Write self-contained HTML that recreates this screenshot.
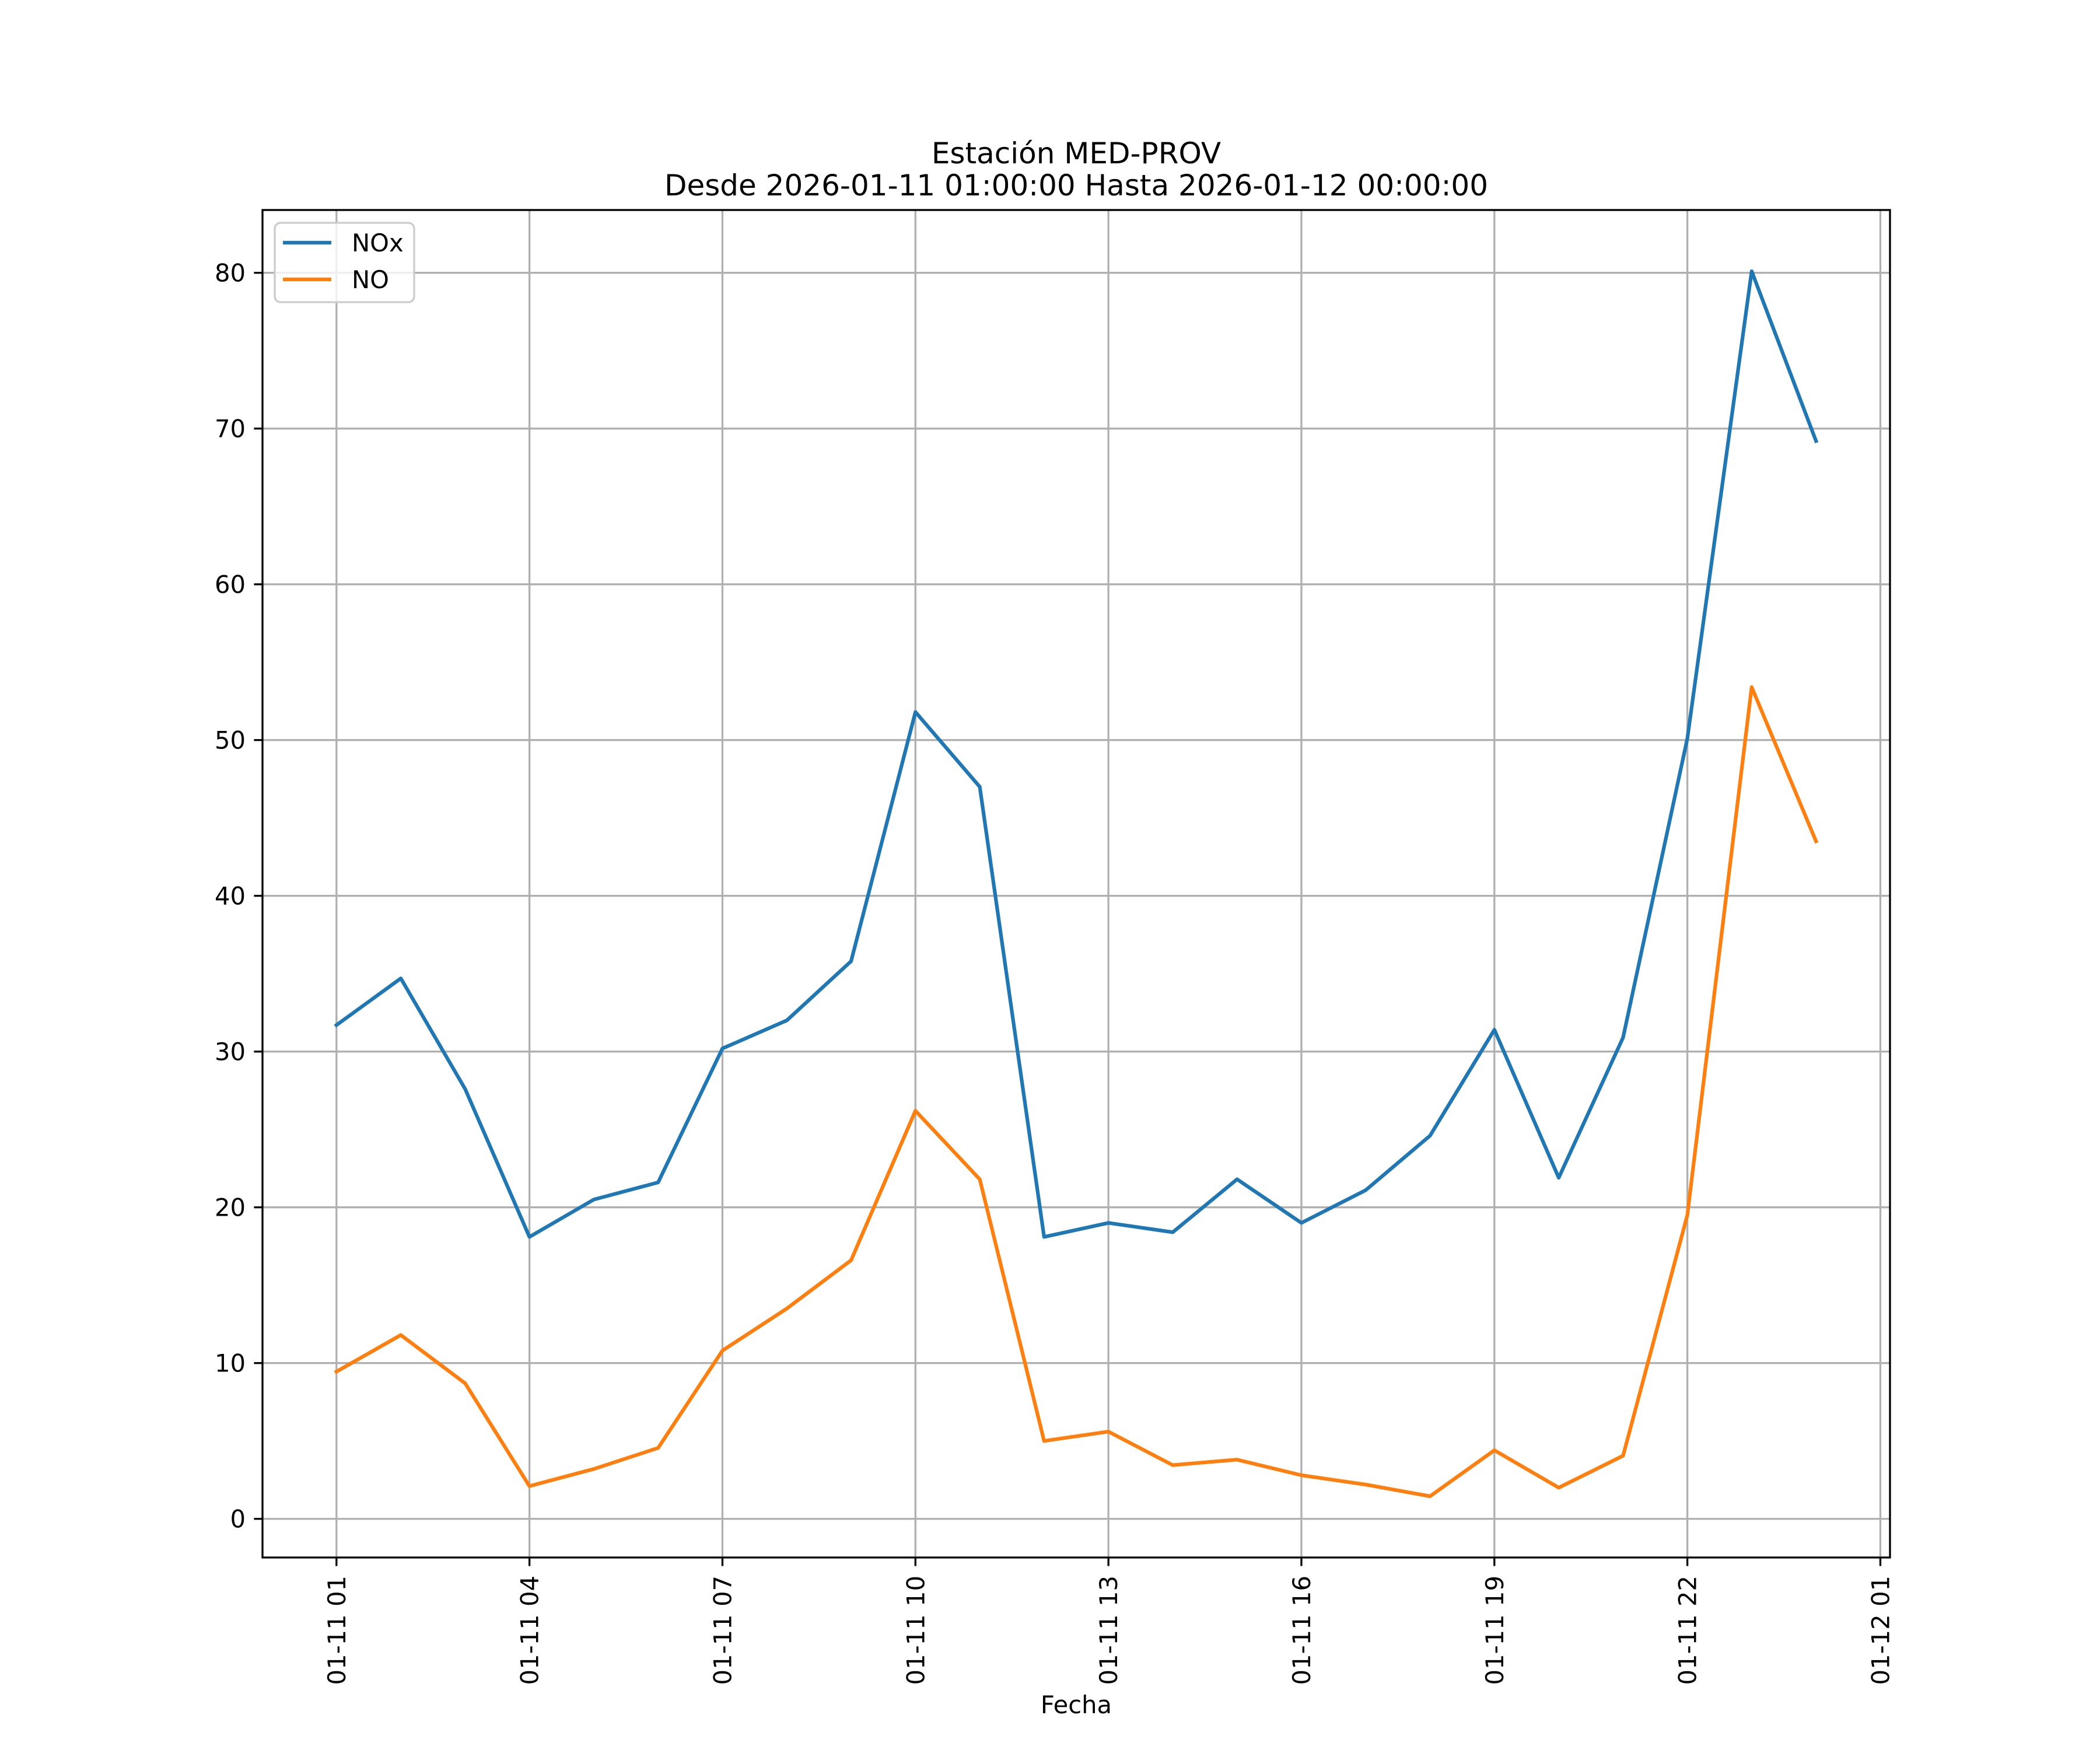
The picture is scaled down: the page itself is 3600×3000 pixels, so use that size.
<!DOCTYPE html>
<html><head><meta charset="utf-8"><style>
html,body{margin:0;padding:0;background:#fff}
svg{display:block}
text{font-family:"DejaVu Sans","Liberation Sans",sans-serif;fill:#000}
</style></head><body>
<svg id="chart" width="3600" height="3000" viewBox="0 0 3600 3000" xmlns="http://www.w3.org/2000/svg">
<rect width="3600" height="3000" fill="#fff"/>
<text x="1845" y="280" font-size="50" text-anchor="middle">Estación MED-PROV</text>
<text x="1845" y="335" font-size="50" text-anchor="middle">Desde 2026-01-11 01:00:00 Hasta 2026-01-12 00:00:00</text>
<g id="grid"></g>
<g id="series"></g>
<rect x="450" y="360" width="2790" height="2310" fill="none" stroke="#000" stroke-width="3.3"/>
<g id="ticks"></g>
<text x="1845" y="2937" font-size="41.7" text-anchor="middle">Fecha</text>
<g>
<rect x="471" y="382" width="239" height="136" rx="10" fill="#fff" fill-opacity="0.8" stroke="#cccccc" stroke-width="3.3"/>
<line x1="485" y1="416" x2="568" y2="416" stroke="#1f77b4" stroke-width="6.25"/>
<text x="603" y="431" font-size="41.7">NOx</text>
<line x1="485" y1="479" x2="568" y2="479" stroke="#ff7f0e" stroke-width="6.25"/>
<text x="603" y="494" font-size="41.7">NO</text>
</g>
</svg>
<script>
const hours = [1,2,3,4,5,6,7,8,9,10,11,12,13,14,15,16,17,18,19,20,21,22,23,24];
const noxValues = [31.7,34.7,27.6,18.1,20.5,21.6,30.2,32.0,35.8,51.8,47.0,18.1,19.0,18.4,21.8,19.0,21.1,24.6,31.4,21.9,30.9,50.1,80.1,69.2];
const noValues = [9.45,11.8,8.7,2.1,3.2,4.55,10.8,13.5,16.6,26.2,21.8,5.0,5.6,3.45,3.8,2.8,2.2,1.45,4.4,2.0,4.05,19.5,53.4,43.5];
const yTicks = [0,10,20,30,40,50,60,70,80];
const xTickHours = [1,4,7,10,13,16,19,22,25];
const xTickLabels = ["01-11 01","01-11 04","01-11 07","01-11 10","01-11 13","01-11 16","01-11 19","01-11 22","01-12 01"];

const NS="http://www.w3.org/2000/svg";
const L=450,R=3240,T=360,B=2670;
const hMin=Math.min(...hours),hMax=Math.max(...hours),hPad=(hMax-hMin)*0.05;
const all=noxValues.concat(noValues);
const vMin=Math.min(...all),vMax=Math.max(...all),vPad=(vMax-vMin)*0.05;
const x0=hMin-hPad,x1=hMax+hPad,y0=vMin-vPad,y1=vMax+vPad;
function sx(h){return L+(h-x0)/(x1-x0)*(R-L);}
function sy(v){return B-(v-y0)/(y1-y0)*(B-T);}
function mk(tag,attrs,parent){const e=document.createElementNS(NS,tag);for(const k in attrs)e.setAttribute(k,attrs[k]);parent.appendChild(e);return e;}
const grid=document.getElementById('grid'),ticks=document.getElementById('ticks'),series=document.getElementById('series');

yTicks.forEach(v=>{
  const y=sy(v);
  const g=mk('line',{x1:L,x2:R,y1:y,y2:y,stroke:'#b0b0b0','stroke-width':3.3},grid);
  
  
  const t=mk('line',{x1:L-14.6,x2:L,y1:y,y2:y,stroke:'#000','stroke-width':3.3},ticks);
  
  
  const tx=mk('text',{x:L-29,y:y+15,'font-size':41.7,'text-anchor':'end'},ticks);
  tx.textContent=String(v);
  
  
});
xTickHours.forEach((h,i)=>{
  const x=sx(h);
  const g=mk('line',{x1:x,x2:x,y1:T,y2:B,stroke:'#b0b0b0','stroke-width':3.3},grid);
  
  
  const t=mk('line',{x1:x,x2:x,y1:B,y2:B+14.6,stroke:'#000','stroke-width':3.3},ticks);
  
  
  const tx=mk('text',{x:0,y:0,'font-size':41.7,'text-anchor':'end',transform:`translate(${x+15},${B+31}) rotate(-90)`},ticks);
  tx.textContent=xTickLabels[i];
  
  
});
function drawLine(vals,color,name){
  const pts=vals.map((v,i)=>sx(hours[i]).toFixed(1)+','+sy(v).toFixed(1)).join(' ');
  const p=mk('polyline',{points:pts,fill:'none',stroke:color,'stroke-width':6.25,'stroke-linejoin':'round','stroke-linecap':'square'},series);
  
  
}
drawLine(noxValues,'#1f77b4','nox-line');
drawLine(noValues,'#ff7f0e','no-line');
</script>
</body></html>
